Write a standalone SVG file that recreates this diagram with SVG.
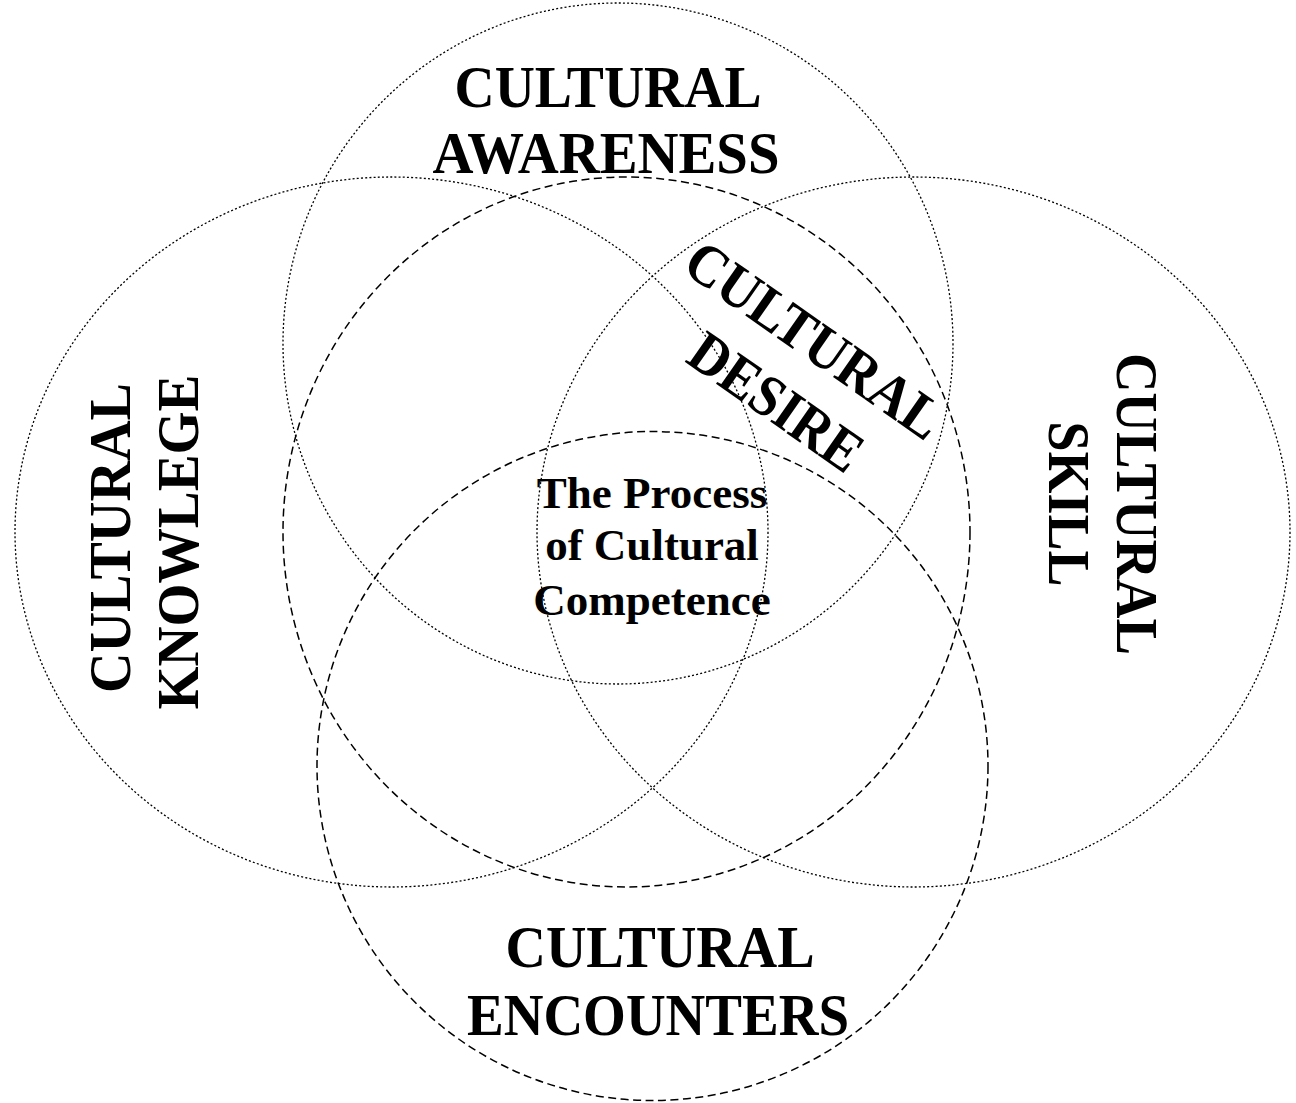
<svg xmlns="http://www.w3.org/2000/svg" width="1296" height="1103" viewBox="0 0 1296 1103">
<style>
.dot{fill:none;stroke:#000;stroke-width:1.3;stroke-dasharray:2 2.2}
.dsh{fill:none;stroke:#000;stroke-width:1.5;stroke-dasharray:8 4.5}
.big{font-family:"Liberation Serif","Times New Roman",serif;font-weight:bold;font-size:59px;fill:#000;text-anchor:middle}
.small{font-family:"Liberation Serif","Times New Roman",serif;font-weight:bold;font-size:45px;fill:#000;text-anchor:middle}
</style>
<rect width="1296" height="1103" fill="#fff"/>
<g id="connectors"></g>
<g id="awareness">
<ellipse class="dot" cx="618" cy="343.5" rx="335" ry="340.5"/>
<text class="big" x="608" y="107" textLength="307" lengthAdjust="spacingAndGlyphs">CULTURAL</text>
<text class="big" x="606" y="173" textLength="347" lengthAdjust="spacingAndGlyphs">AWARENESS</text>
</g>
<g id="knowledge">
<ellipse class="dot" cx="391.5" cy="532" rx="376.5" ry="355"/>
<text class="big" transform="translate(130,538) rotate(-90)" textLength="310" lengthAdjust="spacingAndGlyphs">CULTURAL</text>
<text class="big" transform="translate(198,542) rotate(-90)" textLength="335" lengthAdjust="spacingAndGlyphs">KNOWLEGE</text>
</g>
<g id="skill">
<ellipse class="dot" cx="913.5" cy="532" rx="376.5" ry="355"/>
<text class="big" transform="translate(1117,504) rotate(90)" textLength="302" lengthAdjust="spacingAndGlyphs">CULTURAL</text>
<text class="big" transform="translate(1049,504) rotate(90)" textLength="165" lengthAdjust="spacingAndGlyphs">SKILL</text>
</g>
<g id="desire">
<ellipse class="dsh" cx="626.5" cy="532" rx="343.5" ry="355"/>
<text class="big" transform="translate(803,356) rotate(35)" textLength="300" lengthAdjust="spacingAndGlyphs">CULTURAL</text>
<text class="big" transform="translate(765,418) rotate(35)" textLength="198" lengthAdjust="spacingAndGlyphs">DESIRE</text>
</g>
<g id="encounters">
<ellipse class="dsh" cx="652.5" cy="766" rx="335.5" ry="334.5"/>
<text class="big" x="660" y="967" textLength="309" lengthAdjust="spacingAndGlyphs">CULTURAL</text>
<text class="big" x="658" y="1035" textLength="382" lengthAdjust="spacingAndGlyphs">ENCOUNTERS</text>
</g>
<g id="competence">
<text class="small" x="652" y="508">The Process</text>
<text class="small" x="652" y="560">of Cultural</text>
<text class="small" x="652" y="615">Competence</text>
</g>
</svg>
